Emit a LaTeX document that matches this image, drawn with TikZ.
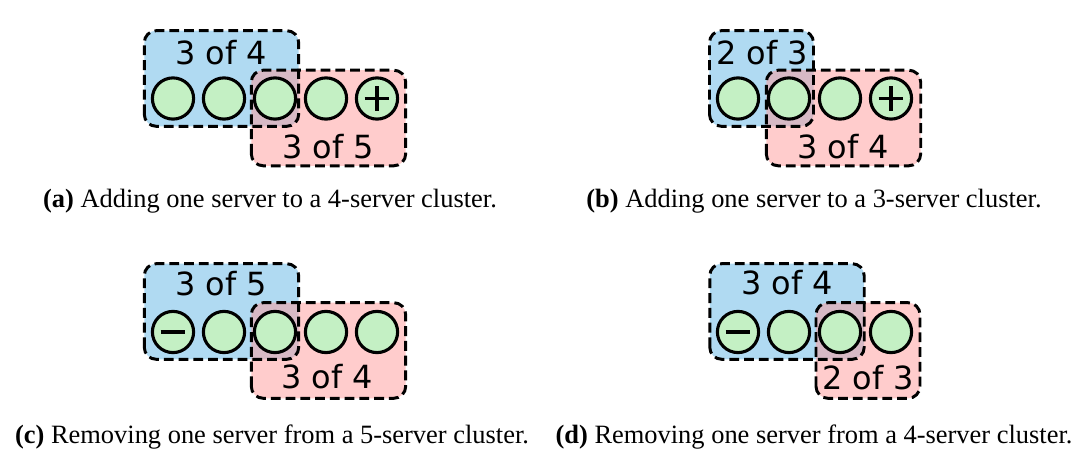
\documentclass[tikz,border=0pt]{standalone}
\usepackage{fontspec}
\setmainfont{Liberation Serif}
\newfontfamily\labelfont{DejaVu Sans}
\usepackage{tikz}

\definecolor{oldblue}{RGB}{176,218,242}
\definecolor{newpink}{RGB}{255,153,153}
\definecolor{srvgreen}{RGB}{196,240,196}

\begin{document}
\begin{tikzpicture}[
    x=0.025cm, y=-0.025cm,
    srv/.style={circle, draw, line width=2.2pt, fill=srvgreen,
                minimum size=1.03cm, inner sep=0pt},
    cfg/.style={rectangle, rounded corners=0.3cm, minimum height=2.39cm,
                inner sep=0pt, outer sep=0pt},
    wide/.style={minimum width=3.86cm},
    narrow/.style={minimum width=2.6cm},
    old/.style={cfg, fill=oldblue},
    new/.style={cfg, fill=newpink, fill opacity=0.5},
    cfgline/.style={draw, line width=2.1pt, rounded corners=0.3cm,
                 dash pattern=on 7pt off 3.5pt},
    sign/.style={line width=2.6pt},
    cnt/.style={font=\labelfont\fontsize{22.7}{27}\selectfont, inner sep=0pt, anchor=base},
    subcap/.style={font=\fontsize{18.8}{22}\selectfont, inner sep=0pt, anchor=base}
]
\useasboundingbox (0,0) rectangle (1086,458);

% (a) adding to a 4-server cluster
\node[old, wide] (oldA) at (221.5,78.5) {};
\node[new, wide] (newA) at (328.5,118) {};
\draw[cfgline] (oldA.south west) rectangle (oldA.north east);
\draw[cfgline] (newA.south west) rectangle (newA.north east);
\foreach \i/\x in {1/173,2/224,3/275,4/326,5/377}
    \node[srv] (a\i) at (\x,98.5) {};
\draw[sign] ([xshift=-0.31cm]a5.center) -- ([xshift=0.31cm]a5.center);
\draw[sign] ([yshift=-0.31cm]a5.center) -- ([yshift=0.31cm]a5.center);
\node[cnt] (oldAlbl) at (221,65) {3 of 4};
\node[cnt] (newAlbl) at (328,158.5) {3 of 5};
\node[subcap] (capA) at (270,208) {\textbf{(a)} Adding one server to a 4-server cluster.};

% (b) adding to a 3-server cluster
\node[old, narrow] (oldB) at (761.5,78.5) {};
\node[new, wide] (newB) at (843.5,118) {};
\draw[cfgline] (oldB.south west) rectangle (oldB.north east);
\draw[cfgline] (newB.south west) rectangle (newB.north east);
\foreach \i/\x in {1/738,2/789,3/840,4/891}
    \node[srv] (b\i) at (\x,98.5) {};
\draw[sign] ([xshift=-0.31cm]b4.center) -- ([xshift=0.31cm]b4.center);
\draw[sign] ([yshift=-0.31cm]b4.center) -- ([yshift=0.31cm]b4.center);
\node[cnt] (oldBlbl) at (762,65) {2 of 3};
\node[cnt] (newBlbl) at (843,159) {3 of 4};
\node[subcap] (capB) at (814,208) {\textbf{(b)} Adding one server to a 3-server cluster.};

% (c) removing from a 5-server cluster
\node[old, wide] (oldC) at (221.5,311.5) {};
\node[new, wide] (newC) at (328.5,350.5) {};
\draw[cfgline] (oldC.south west) rectangle (oldC.north east);
\draw[cfgline] (newC.south west) rectangle (newC.north east);
\foreach \i/\x in {1/173,2/224,3/275,4/326,5/377}
    \node[srv] (c\i) at (\x,332) {};
\draw[sign] ([xshift=-0.31cm]c1.center) -- ([xshift=0.31cm]c1.center);
\node[cnt] (oldClbl) at (221,295.5) {3 of 5};
\node[cnt] (newClbl) at (327,388.5) {3 of 4};
\node[subcap] (capC) at (272,443) {\textbf{(c)} Removing one server from a 5-server cluster.};

% (d) removing from a 4-server cluster
\node[old, wide] (oldD) at (787,311.5) {};
\node[new, narrow] (newD) at (868,350.5) {};
\draw[cfgline] (oldD.south west) rectangle (oldD.north east);
\draw[cfgline] (newD.south west) rectangle (newD.north east);
\foreach \i/\x in {1/738,2/789,3/840,4/891}
    \node[srv] (d\i) at (\x,332) {};
\draw[sign] ([xshift=-0.31cm]d1.center) -- ([xshift=0.31cm]d1.center);
\node[cnt] (oldDlbl) at (787,294.5) {3 of 4};
\node[cnt] (newDlbl) at (868,390) {2 of 3};
\node[subcap] (capD) at (814,443) {\textbf{(d)} Removing one server from a 4-server cluster.};

\end{tikzpicture}
\end{document}
